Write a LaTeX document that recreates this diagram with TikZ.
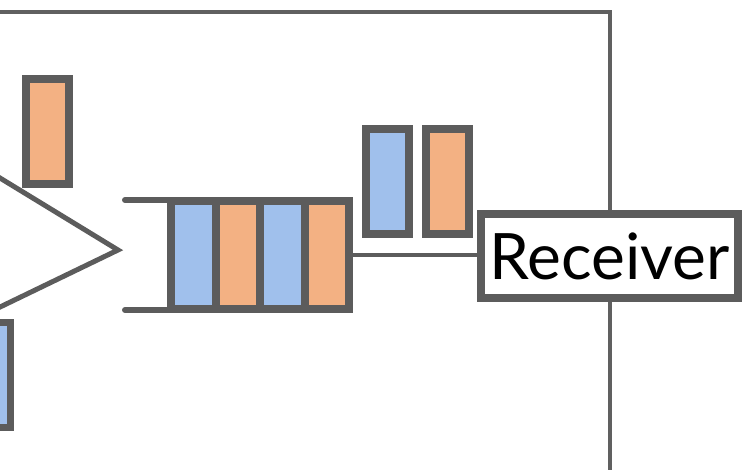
\documentclass[tikz,border=0pt]{standalone}
\usepackage{fontspec}
\setmainfont{Lato}
\definecolor{edge}{HTML}{5C5C5C}
\definecolor{frame}{HTML}{606060}
\definecolor{pktblue}{HTML}{A0C0EC}
\definecolor{pktorange}{HTML}{F3B183}
\tikzset{
  packet/.style={rectangle, draw=edge, line width=7.5pt, inner sep=0pt, outer sep=0pt,
    minimum width=43pt, minimum height=105pt},
  bluepkt/.style={packet, fill=pktblue},
  orangepkt/.style={packet, fill=pktorange},
  cell/.style={rectangle, draw=edge, line width=8pt, inner sep=0pt, outer sep=0pt,
    minimum width=44.5pt, minimum height=108pt},
  rail/.style={draw=edge, line width=6pt, line cap=round},
  wire/.style={draw=edge, line width=4.5pt},
  boxnode/.style={rectangle, draw=edge, line width=8pt, fill=white, inner sep=0pt,
    outer sep=0pt, minimum width=257pt, minimum height=84pt,
    font=\fontsize{64}{72}\selectfont}
}
\begin{document}
\begin{tikzpicture}[x=1pt,y=-1pt]
  \useasboundingbox (0,0) rectangle (743,469);
  \clip (0,0) rectangle (743,469);

  % enclosing frame
  \coordinate (frameL) at (-20,12);
  \coordinate (frameC) at (610,12);
  \coordinate (frameB) at (610,490);
  \draw[frame, line width=4pt] (frameL) -- (frameC) -- (frameB);

  % switch / multiplexer wedge
  \coordinate (wedgeTop) at (-20,165.8);
  \coordinate (apex) at (118,250);
  \coordinate (wedgeBot) at (-20,316.7);
  \draw[edge, line width=5pt, line join=miter] (wedgeTop) -- (apex) -- (wedgeBot);

  % packets around the wedge
  \node[orangepkt] (inA) at (47.5,131.5) {};
  \node[bluepkt] (inB) at (-11,375) {};

  % queue
  \node[cell, fill=pktblue]   (q1) at (193.25,255) {};
  \node[cell, fill=pktorange] (q2) at (237.75,255) {};
  \node[cell, fill=pktblue]   (q3) at (282.25,255) {};
  \node[cell, fill=pktorange] (q4) at (326.75,255) {};
  \coordinate (railTop) at (125,200);
  \coordinate (railBot) at (125,310);
  \draw[rail] (railTop) -- (railTop -| q1.west);
  \draw[rail] (railBot) -- (railBot -| q1.west);

  % receiver
  \node[boxnode] (rx) at (609.5,256) {Receiver};
  \draw[wire] (q4.east) -- (q4.east -| rx.west);

  % packets in flight
  \node[bluepkt]   (outA) at (387.5,181.5) {};
  \node[orangepkt] (outB) at (447.5,181.5) {};
\end{tikzpicture}
\end{document}
